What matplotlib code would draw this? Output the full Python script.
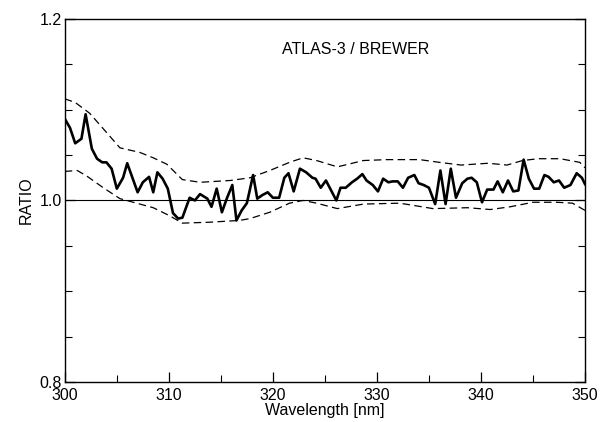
import matplotlib
matplotlib.use("Agg")
import matplotlib.pyplot as plt
from matplotlib.ticker import MultipleLocator

plt.rcParams["font.family"] = ["Liberation Sans", "DejaVu Sans"]

# ratio ATLAS-3 / Brewer
wavelength = [300.0, 300.5, 301.0, 301.6, 302.0, 302.6, 303.1, 303.6, 304.0, 304.5,
              305.0, 305.6, 306.0, 306.5, 307.0, 307.5, 308.1, 308.5, 308.9, 309.4,
              309.9, 310.4, 310.9, 311.3, 312.0, 312.5, 313.0, 313.7, 314.1, 314.6,
              315.1, 315.6, 316.1, 316.5, 317.0, 317.5, 318.1, 318.5, 319.0, 319.5,
              320.0, 320.6, 321.1, 321.5, 322.0, 322.6, 323.2, 323.8, 324.1, 324.6,
              325.1, 325.6, 326.1, 326.5, 327.0, 327.6, 328.1, 328.6, 329.0, 329.6,
              330.1, 330.6, 331.1, 331.5, 332.0, 332.5, 333.0, 333.6, 334.0, 334.5,
              335.0, 335.6, 336.1, 336.6, 337.1, 337.6, 338.2, 338.7, 339.1, 339.6,
              340.1, 340.6, 341.2, 341.6, 342.1, 342.6, 343.1, 343.6, 344.1, 344.6,
              345.1, 345.6, 346.1, 346.5, 347.0, 347.5, 348.0, 348.6, 349.2, 349.7,
              350.0]
ratio = [1.090, 1.080, 1.063, 1.068, 1.095, 1.057, 1.046, 1.042, 1.042, 1.035,
         1.013, 1.025, 1.041, 1.025, 1.009, 1.020, 1.026, 1.009, 1.031, 1.024,
         1.013, 0.986, 0.980, 0.981, 1.003, 1.000, 1.007, 1.002, 0.993, 1.013,
         0.987, 1.003, 1.017, 0.978, 0.989, 0.997, 1.028, 1.002, 1.006, 1.009,
         1.003, 1.003, 1.025, 1.030, 1.010, 1.035, 1.031, 1.025, 1.024, 1.014,
         1.022, 1.011, 1.000, 1.014, 1.014, 1.020, 1.024, 1.029, 1.022, 1.017,
         1.010, 1.024, 1.020, 1.021, 1.021, 1.014, 1.025, 1.028, 1.019, 1.017,
         1.014, 0.996, 1.033, 0.996, 1.035, 1.003, 1.019, 1.024, 1.025, 1.020,
         0.998, 1.012, 1.012, 1.021, 1.009, 1.022, 1.010, 1.011, 1.045, 1.024,
         1.013, 1.013, 1.028, 1.026, 1.020, 1.022, 1.014, 1.017, 1.030, 1.025,
         1.018]

# uncertainty envelope
upper_wl = [300.0, 301.0, 302.4, 303.7, 305.3, 307.2, 308.5, 309.8, 311.3, 313.0,
            315.9, 317.8, 319.7, 321.6, 322.9, 324.2, 326.2, 328.7, 331.0, 334.1,
            336.0, 338.1, 340.7, 342.5, 344.0, 345.5, 347.6, 349.5, 350.0]
upper = [1.112, 1.108, 1.096, 1.079, 1.058, 1.053, 1.047, 1.040, 1.023, 1.020,
         1.022, 1.025, 1.033, 1.042, 1.047, 1.044, 1.037, 1.044, 1.045, 1.045,
         1.042, 1.039, 1.041, 1.039, 1.044, 1.046, 1.046, 1.042, 1.036]
lower_wl = [300.0, 301.2, 302.1, 303.7, 305.3, 306.9, 308.5, 310.1, 311.3, 313.9,
            316.8, 317.8, 319.7, 321.6, 322.9, 324.2, 326.2, 328.7, 332.2, 335.4,
            338.7, 340.9, 342.8, 345.0, 347.3, 348.8, 350.0]
lower = [1.032, 1.033, 1.027, 1.014, 1.002, 0.997, 0.992, 0.983, 0.975, 0.976,
         0.978, 0.980, 0.987, 0.997, 1.000, 0.997, 0.991, 0.996, 0.997, 0.991,
         0.992, 0.990, 0.993, 0.998, 0.998, 0.997, 0.989]

fig = plt.figure(figsize=(6.0, 4.22), dpi=100)
ax = fig.add_axes([0.108, 0.095, 0.867, 0.86])

ax.axhline(1.0, color="black", lw=0.8)
ax.plot(upper_wl, upper, color="black", lw=0.9, dashes=(6, 3.5))
ax.plot(lower_wl, lower, color="black", lw=0.9, dashes=(6, 3.5))
ax.plot(wavelength, ratio, color="black", lw=1.9)

ax.set_xlim(300, 350)
ax.set_ylim(0.8, 1.2)
ax.xaxis.set_major_locator(MultipleLocator(10))
ax.xaxis.set_minor_locator(MultipleLocator(5))
ax.yaxis.set_major_locator(MultipleLocator(0.2))
ax.yaxis.set_minor_locator(MultipleLocator(0.05))
ax.tick_params(which="both", direction="in", top=False, right=True, labelsize=11.5)
ax.tick_params(axis="x", pad=4.5)
ax.tick_params(axis="y", pad=2)
ax.tick_params(which="major", length=7, width=0.9)
ax.tick_params(which="minor", length=5, width=0.8)
for s in ax.spines.values():
    s.set_linewidth(1.0)

ax.set_xlabel("Wavelength [nm]", fontsize=11.5, labelpad=0)
ax.set_ylabel("RATIO", fontsize=11.5, labelpad=4)
ax.text(0.56, 0.915, "ATLAS-3 / BREWER", transform=ax.transAxes, ha="center",
        va="center", fontsize=11.5)

fig.savefig("out.png", dpi=100)
